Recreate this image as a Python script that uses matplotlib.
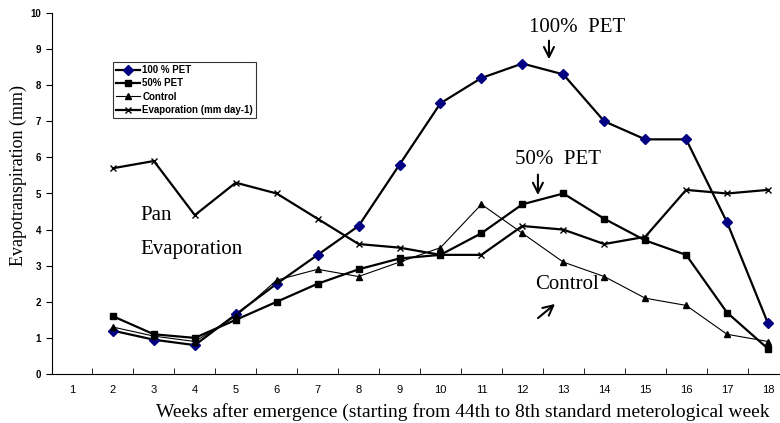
import matplotlib
matplotlib.use('Agg')
import matplotlib.pyplot as plt

weeks = list(range(2, 19))
pet100 = [1.2, 0.95, 0.8, 1.65, 2.5, 3.3, 4.1, 5.8, 7.5, 8.2, 8.6, 8.3, 7.0, 6.5, 6.5, 4.2, 1.4]
pet50 = [1.6, 1.1, 1.0, 1.5, 2.0, 2.5, 2.9, 3.2, 3.3, 3.9, 4.7, 5.0, 4.3, 3.7, 3.3, 1.7, 0.7]
control = [1.3, 1.05, 0.9, 1.6, 2.6, 2.9, 2.7, 3.1, 3.5, 4.7, 3.9, 3.1, 2.7, 2.1, 1.9, 1.1, 0.9]
evap = [5.7, 5.9, 4.4, 5.3, 5.0, 4.3, 3.6, 3.5, 3.3, 3.3, 4.1, 4.0, 3.6, 3.8, 5.1, 5.0, 5.1]
xticks = list(range(1, 19))

fig = plt.figure(figsize=(7.8, 4.23), dpi=100)
ax = fig.add_axes([51.5 / 780, 49 / 423, 737 / 780, 361 / 423])

ax.plot(weeks, pet100, color='black', lw=1.6, marker='D', ms=5,
        mfc='#000080', mec='#000080', label='100 % PET')
ax.plot(weeks, pet50, color='black', lw=1.6, marker='s', ms=5,
        mfc='black', mec='black', label='50% PET')
ax.plot(weeks, control, color='black', lw=0.8, marker='^', ms=5,
        mfc='black', mec='black', label='Control')
ax.plot(weeks, evap, color='black', lw=1.6, marker='x', ms=5,
        mew=1, label='Evaporation (mm day-1)')

ax.set_xlim(0.5, 18.5)
ax.set_ylim(0, 10)
ax.set_xticks(xticks)
ax.set_xticks([i + 0.5 for i in range(0, 18)], minor=True)
ax.tick_params(axis='x', which='major', length=0, pad=8)
ax.tick_params(axis='x', which='minor', length=4, direction='in')
ax.tick_params(axis='y', length=4, direction='out')
ax.set_yticks(range(0, 11))
for lab in ax.get_xticklabels():
    lab.set_fontsize(8)
    lab.set_family('Liberation Sans')
for lab in ax.get_yticklabels():
    lab.set_fontsize(7)
    lab.set_fontweight('bold')
    lab.set_family('Liberation Sans')
ax.spines['top'].set_visible(False)
ax.spines['right'].set_visible(False)

ax.set_ylabel('Evapotranspiration (mm)', family='Liberation Serif', fontsize=13)
ax.yaxis.set_label_coords((27 - 51.5) / 737, (374 - 175) / 361)
ax.set_xlabel('Weeks after emergence (starting from 44th to 8th standard meterological week',
              family='Liberation Serif', fontsize=14)
ax.xaxis.set_label_coords((463 - 51.5) / 737, -(403 - 374) / 361)

leg = ax.legend(loc='upper left', bbox_to_anchor=((113 - 51.5) / 737, (374 - 62) / 361),
                prop={'family': 'Liberation Sans', 'weight': 'bold', 'size': 7},
                frameon=True, fancybox=False, edgecolor='black', borderpad=0.3,
                labelspacing=0.35, handlelength=2.5, handletextpad=0.2, borderaxespad=0)
leg.get_frame().set_linewidth(0.8)

tfont = dict(family='Liberation Serif', fontsize=15)
arrow = dict(arrowstyle='->', lw=1.5, color='black', mutation_scale=18)
ax.text(13.33, 9.61, '100%  PET', ha='center', va='center', **tfont)
ax.annotate('', xy=(12.65, 8.64), xytext=(12.65, 9.31), arrowprops=arrow)
ax.text(12.87, 5.93, '50%  PET', ha='center', va='center', **tfont)
ax.annotate('', xy=(12.38, 4.88), xytext=(12.38, 5.6), arrowprops=arrow)
ax.text(2.66, 4.4, 'Pan', ha='left', va='center', **tfont)
ax.text(2.66, 3.46, 'Evaporation', ha='left', va='center', **tfont)
ax.text(13.09, 2.47, 'Control', ha='center', va='center', **tfont)
ax.annotate('', xy=(12.85, 1.99), xytext=(12.33, 1.5), arrowprops=arrow)

fig.savefig('out.png', dpi=100)
